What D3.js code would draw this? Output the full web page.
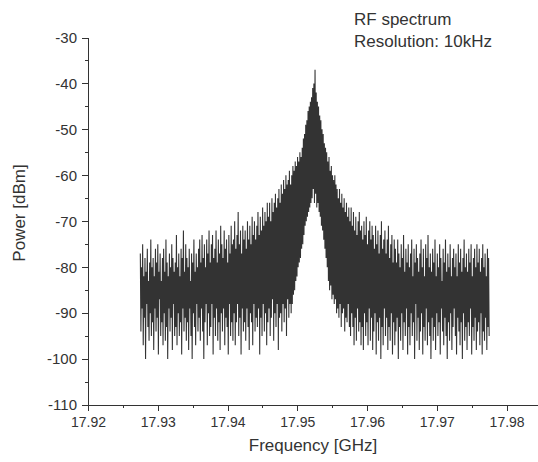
<!DOCTYPE html>
<head>
  <meta charset="utf-8">
  <style>
    body { margin: 0; background: #fff; }
    .axis path,
    .axis line {
      stroke: #333;
      shape-rendering: crispEdges;
    }
    .axis text {
      font-family: "Liberation Sans", Arial, sans-serif;
      fill: #333;
    }
    .label {
      font-family: "Liberation Sans", Arial, sans-serif;
      font-size: 17px;
      fill: #333;
    }
  </style>
  <script src="https://d3js.org/d3.v7.min.js" charset="utf-8"></script>
</head>
<body>
  <script>

    // tick labels
    const xTicks = [17.92, 17.93, 17.94, 17.95, 17.96, 17.97, 17.98];
    const yTicks = [-110, -100, -90, -80, -70, -60, -50, -40, -30];

    // sweep of the analyser (GHz)
    const sweepStart = 17.9275;
    const sweepStop = 17.9775;

    const power = [
      -77,-94,-80,-89,-75,-97,-82,-91,-78,-100,-81,-88,-76,-93,-83,-96,-79,-90,-74,-95,
      -80,-92,-78,-98,-82,-89,-76,-94,-79,-91,-75,-99,-81,-87,-77,-95,-83,-92,-78,-97,
      -76,-90,-81,-96,-74,-93,-79,-100,-82,-89,-77,-94,-80,-91,-75,-98,-78,-88,-81,-95,
      -79,-93,-73,-97,-80,-90,-77,-95,-82,-92,-76,-99,-78,-89,-72,-94,-81,-91,-75,-96,
      -78,-92,-80,-98,-76,-89,-83,-95,-77,-100,-79,-90,-74,-93,-81,-97,-77,-88,-80,-94,
      -76,-91,-74,-96,-79,-89,-73,-94,-78,-100,-75,-92,-80,-88,-74,-97,-77,-90,-72,-95,
      -79,-93,-75,-88,-73,-99,-78,-91,-76,-95,-72,-89,-79,-96,-74,-92,-77,-98,-71,-90,
      -75,-94,-78,-89,-72,-97,-76,-91,-74,-93,-79,-99,-73,-88,-77,-95,-71,-92,-75,-96,
      -74,-90,-70,-97,-76,-92,-73,-88,-68,-95,-75,-91,-72,-99,-77,-89,-71,-94,-74,-92,
      -72,-96,-76,-89,-70,-93,-74,-98,-71,-90,-75,-92,-69,-97,-73,-88,-70,-94,-74,-91,
      -71,-93,-68,-89,-73,-99,-69,-91,-72,-95,-67,-88,-71,-94,-68,-90,-70,-97,-66,-92,
      -69,-89,-66,-95,-70,-91,-65,-87,-68,-96,-66,-90,-64,-93,-67,-88,-65,-98,-63,-91,
      -66,-90,-62,-94,-64,-88,-61,-92,-63,-89,-60,-95,-62,-87,-61,-91,-59,-88,-62,-90,
      -60,-88,-58,-86,-59,-85,-57,-83,-58,-82,-56,-80,-57,-79,-55,-78,-56,-76,-54,-75,
      -52,-73,-51,-71,-49,-70,-48,-69,-46,-68,-45,-67,-44,-66,-43,-65,-41,-63,-40,-66,
      -37,-64,-42,-67,-44,-66,-45,-68,-47,-69,-48,-71,-50,-72,-51,-74,-53,-76,-54,-78,
      -55,-80,-57,-83,-56,-85,-59,-84,-58,-87,-60,-86,-61,-88,-60,-87,-62,-90,-63,-89,
      -65,-91,-63,-88,-66,-93,-64,-90,-67,-89,-65,-94,-68,-91,-66,-92,-69,-88,-67,-93,
      -70,-95,-67,-90,-71,-93,-68,-97,-72,-91,-69,-96,-73,-89,-70,-94,-68,-92,-72,-97,
      -71,-93,-74,-98,-70,-90,-73,-95,-69,-92,-75,-97,-72,-89,-70,-96,-74,-91,-71,-98,
      -73,-94,-76,-90,-71,-99,-75,-92,-72,-96,-77,-91,-73,-100,-70,-93,-76,-97,-74,-89,
      -72,-95,-77,-91,-74,-98,-71,-93,-78,-96,-75,-90,-73,-99,-79,-92,-74,-97,-76,-94,
      -79,-91,-74,-100,-77,-93,-80,-96,-75,-90,-78,-98,-73,-92,-81,-95,-76,-89,-79,-99,
      -75,-93,-80,-97,-77,-90,-74,-95,-82,-92,-76,-100,-79,-88,-75,-96,-78,-91,-81,-98,
      -77,-94,-74,-90,-80,-99,-76,-93,-82,-96,-75,-89,-78,-97,-73,-92,-80,-95,-77,-100,
      -81,-91,-76,-96,-79,-93,-74,-98,-82,-90,-77,-95,-80,-92,-75,-99,-78,-89,-83,-94,
      -76,-97,-79,-91,-74,-95,-81,-100,-77,-92,-80,-96,-75,-90,-82,-98,-78,-93,-76,-89,
      -80,-95,-77,-99,-82,-91,-75,-94,-79,-97,-76,-92,-81,-100,-78,-90,-74,-96,-80,-93,
      -77,-98,-81,-92,-76,-95,-79,-89,-75,-99,-82,-93,-78,-96,-76,-91,-80,-98,-75,-94,
      -79,-92,-76,-97,-81,-90,-78,-99,-75,-94,-80,-96,-77,-91,-82,-98,-76,-93,-78,-95
    ];

    const w = 538,
          h = 462;

    const svg = d3.select('body').append('svg')
          .attr('width', w)
          .attr('height', h);

    const xScale = d3.scaleLinear()
                    .domain([17.92, 17.9845])
                    .range([88, 538]);

    const yScale = d3.scaleLinear()
                    .domain([-110, -30])
                    .range([405, 37.5]);

    const step = (sweepStop - sweepStart) / (power.length - 1);

    const line = d3.line()
                   .x((d, i) => xScale(sweepStart + i * step))
                   .y((d) => yScale(d));

    svg.append('path')
       .datum(power)
       .attr('d', line)
       .attr('fill', 'none')
       .attr('stroke', '#000')
       .attr('stroke-width', 1.1)
       .attr('stroke-opacity', 0.8);

    // minor ticks halfway between labels
    const xMinor = xTicks.map((d) => d + 0.005);
    const yMinor = yTicks.slice(0, -1).map((d) => d + 5);

    svg.append('g')
       .attr('class', 'x axis minor')
       .attr('transform', `translate(0, ${yScale(-110)})`)
       .call(d3.axisBottom(xScale).tickValues(xMinor).tickSize(3).tickSizeOuter(0).tickFormat(''));

    svg.append('g')
       .attr('class', 'x axis')
       .attr('transform', `translate(0, ${yScale(-110)})`)
       .call(d3.axisBottom(xScale).tickValues(xTicks).tickSize(6).tickSizeOuter(0)
                .tickPadding(6).tickFormat(d3.format('.2f')))
       .selectAll('text')
       .style('font-size', '14px');

    svg.append('g')
       .attr('class', 'y axis minor')
       .attr('transform', `translate(${xScale(17.92)}, 0)`)
       .call(d3.axisLeft(yScale).tickValues(yMinor).tickSize(3).tickSizeOuter(0).tickFormat(''));

    svg.append('g')
       .attr('class', 'y axis')
       .attr('transform', `translate(${xScale(17.92)}, 0)`)
       .call(d3.axisLeft(yScale).tickValues(yTicks).tickSize(6).tickSizeOuter(0)
                .tickPadding(5).tickFormat((d) => String(d).replace('\u2212', '-')))
       .selectAll('text')
       .style('font-size', '15px');

    svg.append('text')
       .attr('class', 'label')
       .attr('x', 313)
       .attr('y', 451)
       .attr('text-anchor', 'middle')
       .text('Frequency [GHz]');

    svg.append('text')
       .attr('class', 'label')
       .attr('transform', 'translate(25, 213) rotate(-90)')
       .attr('text-anchor', 'middle')
       .text('Power [dBm]');

    svg.append('text')
       .attr('class', 'label')
       .attr('x', 354)
       .attr('y', 25)
       .text('RF spectrum');

    svg.append('text')
       .attr('class', 'label')
       .attr('x', 354)
       .attr('y', 47)
       .text('Resolution: 10kHz');

  </script>
</body>
